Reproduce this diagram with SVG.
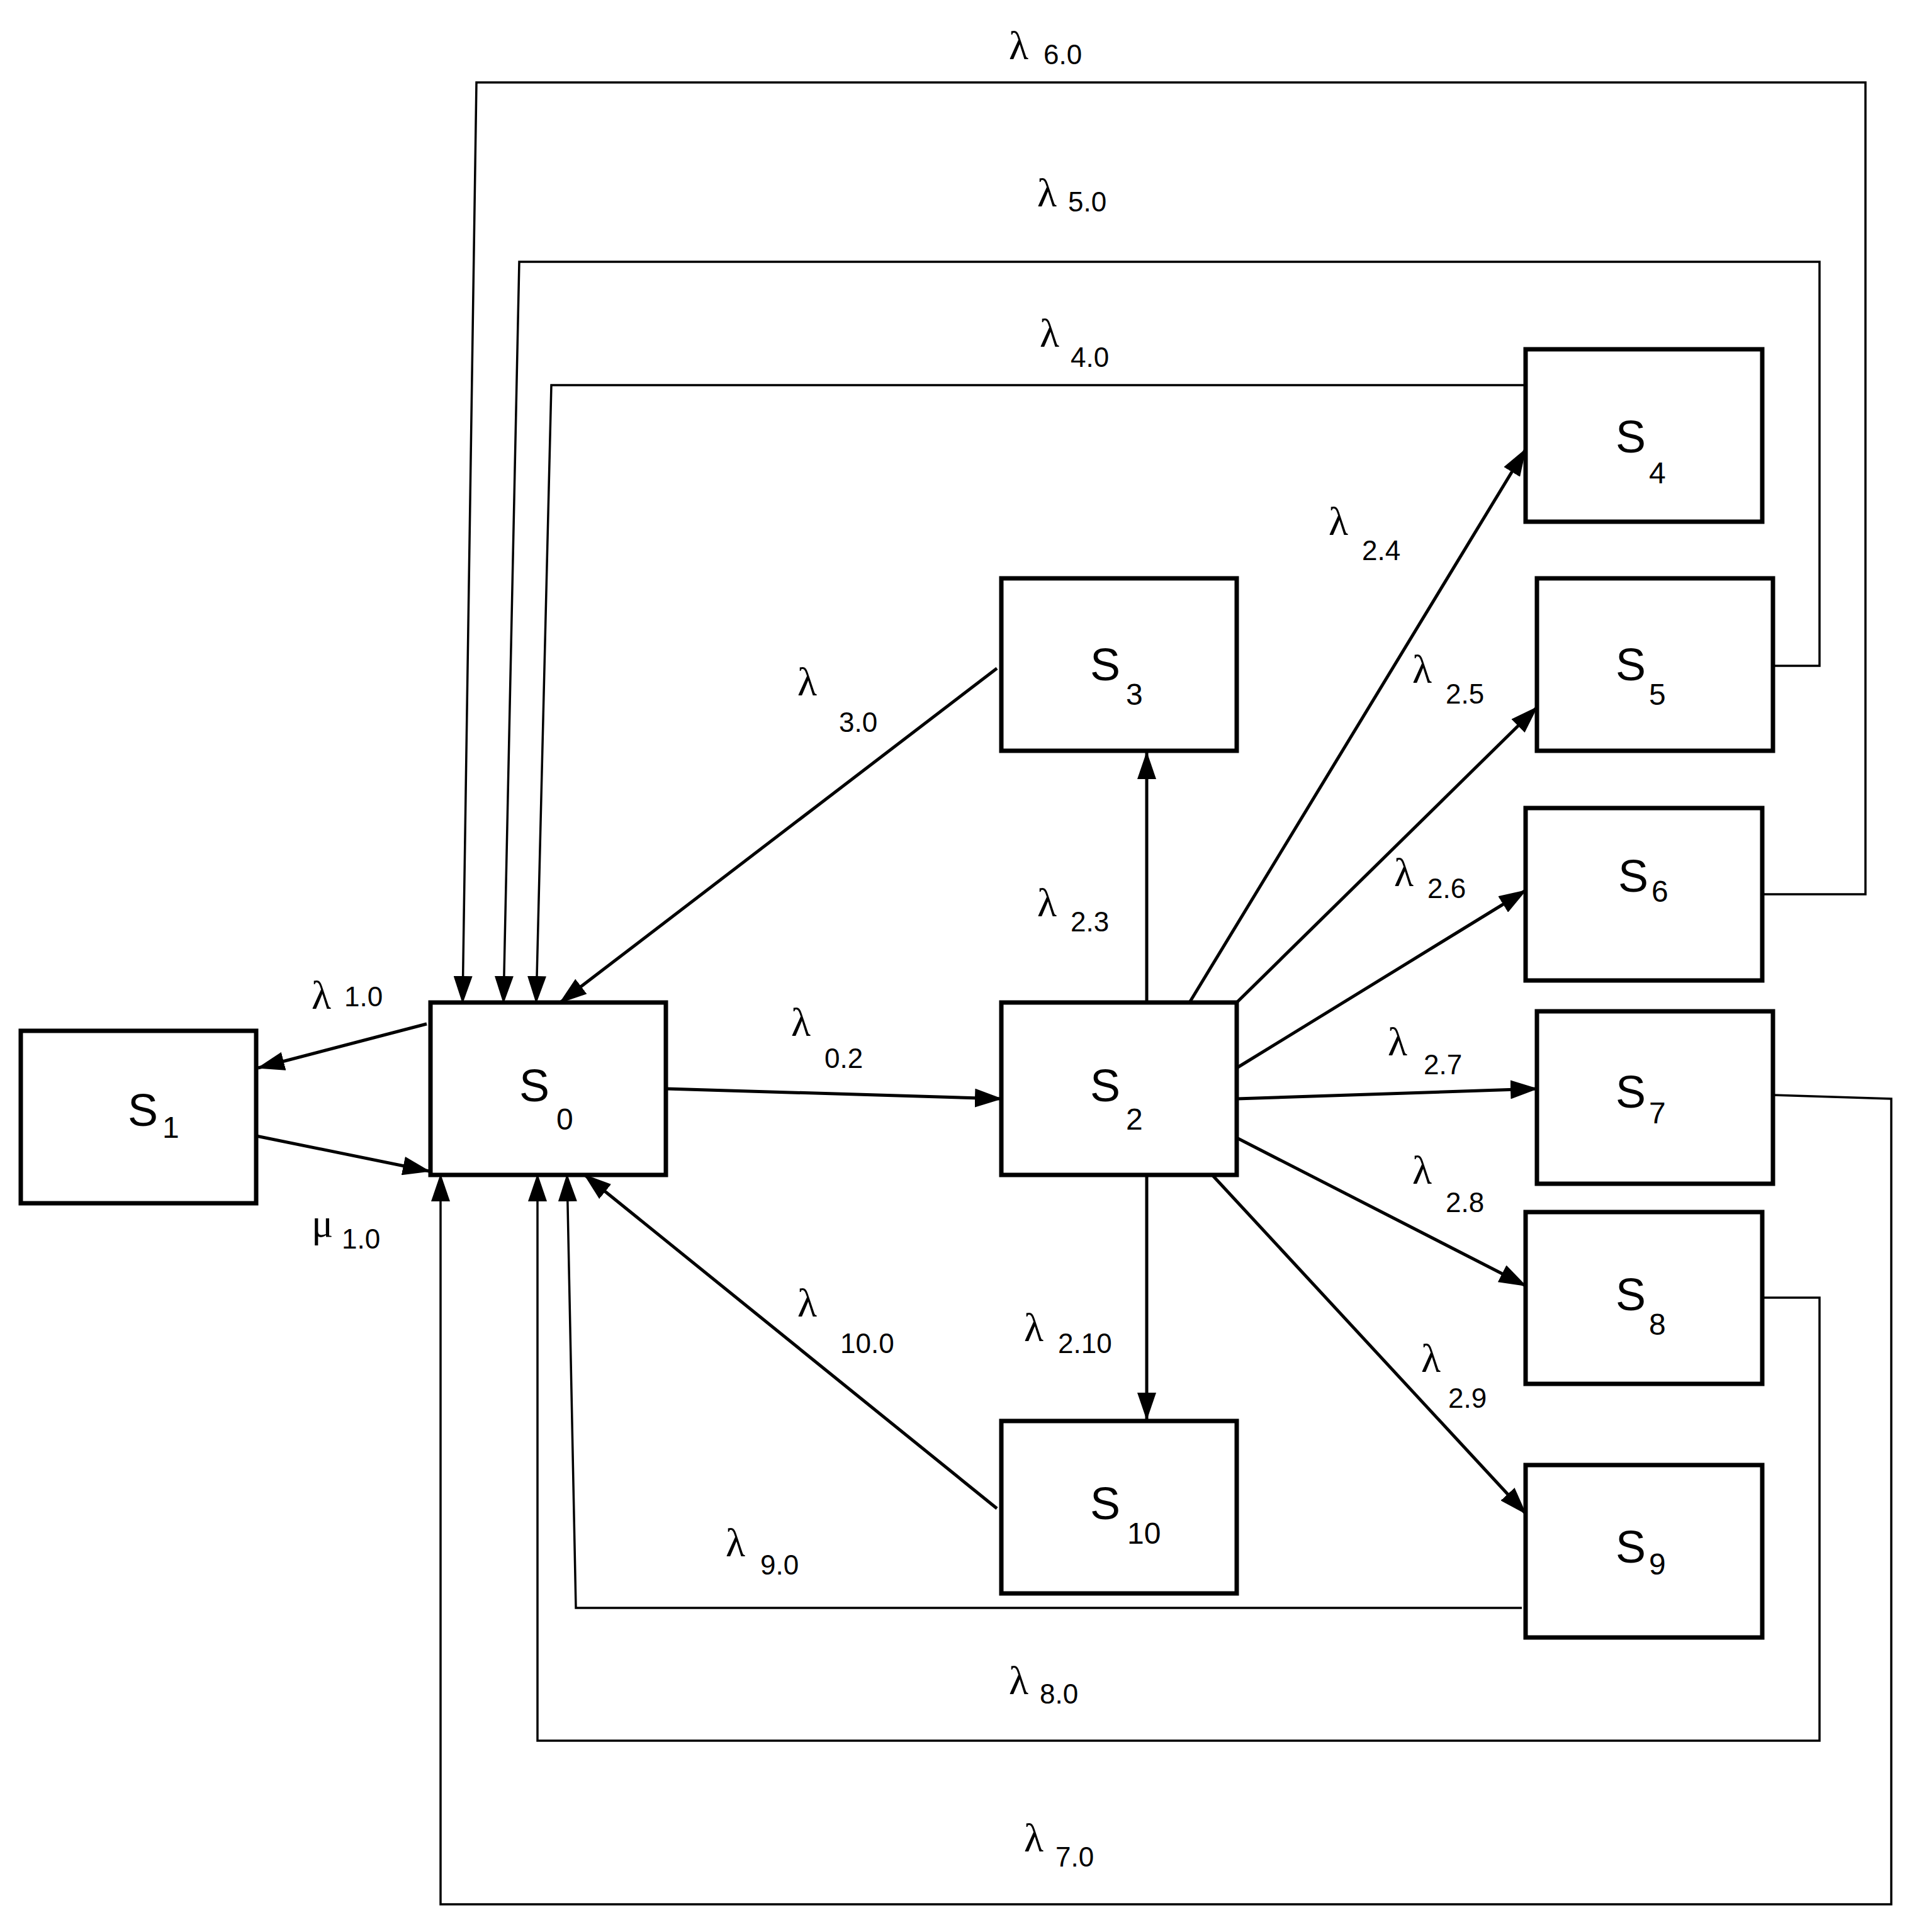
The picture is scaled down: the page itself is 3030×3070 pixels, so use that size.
<svg xmlns="http://www.w3.org/2000/svg" width="3030" height="3070" viewBox="0 0 3030 3070">
<style>
.box{fill:#fff;stroke:#000;stroke-width:7}
.c{fill:none;stroke:#000;stroke-width:5}
.w{fill:none;stroke:#000;stroke-width:3.5}
.s{font-family:"Liberation Sans","Open Sans",sans-serif;font-size:72px;fill:#000}
.ss{font-family:"Liberation Sans","Open Sans",sans-serif;font-size:48px;fill:#000}
.l{font-family:"Liberation Serif",serif;font-size:64px;fill:#000}
.ls{font-family:"Liberation Sans","Open Sans",sans-serif;font-size:44px;fill:#000}
</style>
<defs>
<marker id="a" markerUnits="userSpaceOnUse" markerWidth="44" markerHeight="30" refX="42" refY="15" orient="auto"><path d="M0,0 L44,15 L0,30 Z" fill="#000"/></marker>
</defs>
<rect width="3030" height="3070" fill="#fff"/>
<g id="connectors">
<line class="c" x1="678" y1="1627" x2="410" y2="1697" marker-end="url(#a)"/>
<line class="c" x1="407" y1="1805" x2="682" y2="1861" marker-end="url(#a)"/>
<line class="c" x1="1058" y1="1730" x2="1591" y2="1746" marker-end="url(#a)"/>
<line class="c" x1="1584" y1="1062" x2="890" y2="1593" marker-end="url(#a)"/>
<line class="c" x1="1584" y1="2397" x2="929" y2="1867" marker-end="url(#a)"/>
<line class="c" x1="1822" y1="1593" x2="1822" y2="1196" marker-end="url(#a)"/>
<line class="c" x1="1822" y1="1867" x2="1822" y2="2255" marker-end="url(#a)"/>
<line class="c" x1="1890" y1="1593" x2="2424" y2="714" marker-end="url(#a)"/>
<line class="c" x1="1965" y1="1593" x2="2442" y2="1124" marker-end="url(#a)"/>
<line class="c" x1="1965" y1="1697" x2="2424" y2="1415" marker-end="url(#a)"/>
<line class="c" x1="1965" y1="1746" x2="2442" y2="1730" marker-end="url(#a)"/>
<line class="c" x1="1965" y1="1808" x2="2424" y2="2043" marker-end="url(#a)"/>
<line class="c" x1="1926" y1="1867" x2="2424" y2="2405" marker-end="url(#a)"/>
<polyline class="w" points="2800,1421 2964,1421 2964,131 757,131 735,1593" marker-end="url(#a)"/>
<polyline class="w" points="2817,1058 2891,1058 2891,416 825,416 800,1593" marker-end="url(#a)"/>
<polyline class="w" points="2424,612 876,612 852,1593" marker-end="url(#a)"/>
<polyline class="w" points="2817,1740 3005,1746 3005,3026 700,3026 700,1867" marker-end="url(#a)"/>
<polyline class="w" points="2800,2062 2891,2062 2891,2766 854,2766 854,1867" marker-end="url(#a)"/>
<polyline class="w" points="2418,2555 915,2555 901,1867" marker-end="url(#a)"/>
</g>
<g id="labels">
<text class="l" x="1603" y="94">λ</text><text class="ls" x="1658" y="102">6.0</text>
<text class="l" x="1648" y="328">λ</text><text class="ls" x="1697" y="336">5.0</text>
<text class="l" x="1652" y="551">λ</text><text class="ls" x="1701" y="583">4.0</text>
<text class="l" x="495" y="1603">λ</text><text class="ls" x="547" y="1599">1.0</text>
<text class="l" x="495" y="1965">μ</text><text class="ls" x="543" y="1984">1.0</text>
<text class="l" x="1267" y="1105">λ</text><text class="ls" x="1333" y="1163">3.0</text>
<text class="l" x="1257" y="1646">λ</text><text class="ls" x="1310" y="1697">0.2</text>
<text class="l" x="1648" y="1456">λ</text><text class="ls" x="1701" y="1480">2.3</text>
<text class="l" x="1267" y="2092">λ</text><text class="ls" x="1335" y="2150">10.0</text>
<text class="l" x="1627" y="2131">λ</text><text class="ls" x="1681" y="2150">2.10</text>
<text class="l" x="1153" y="2473">λ</text><text class="ls" x="1208" y="2502">9.0</text>
<text class="l" x="1603" y="2692">λ</text><text class="ls" x="1652" y="2707">8.0</text>
<text class="l" x="1627" y="2942">λ</text><text class="ls" x="1677" y="2966">7.0</text>
<text class="l" x="2111" y="850">λ</text><text class="ls" x="2164" y="890">2.4</text>
<text class="l" x="2244" y="1085">λ</text><text class="ls" x="2297" y="1118">2.5</text>
<text class="l" x="2215" y="1408">λ</text><text class="ls" x="2268" y="1427">2.6</text>
<text class="l" x="2205" y="1677">λ</text><text class="ls" x="2262" y="1707">2.7</text>
<text class="l" x="2244" y="1881">λ</text><text class="ls" x="2297" y="1926">2.8</text>
<text class="l" x="2258" y="2180">λ</text><text class="ls" x="2301" y="2237">2.9</text>
</g>
<g id="S0"><rect class="box" x="684" y="1593" width="374" height="274"/><text class="s" x="825" y="1750">S</text><text class="ss" x="884" y="1795">0</text></g>
<g id="S1"><rect class="box" x="33" y="1638" width="374" height="274"/><text class="s" x="203" y="1789">S</text><text class="ss" x="258" y="1808">1</text></g>
<g id="S2"><rect class="box" x="1591" y="1593" width="374" height="274"/><text class="s" x="1732" y="1750">S</text><text class="ss" x="1789" y="1795">2</text></g>
<g id="S3"><rect class="box" x="1591" y="919" width="374" height="274"/><text class="s" x="1732" y="1081">S</text><text class="ss" x="1789" y="1120">3</text></g>
<g id="S4"><rect class="box" x="2424" y="555" width="376" height="274"/><text class="s" x="2567" y="719">S</text><text class="ss" x="2620" y="768">4</text></g>
<g id="S5"><rect class="box" x="2442" y="919" width="375" height="274"/><text class="s" x="2567" y="1081">S</text><text class="ss" x="2620" y="1120">5</text></g>
<g id="S6"><rect class="box" x="2424" y="1284" width="376" height="274"/><text class="s" x="2571" y="1417">S</text><text class="ss" x="2624" y="1433">6</text></g>
<g id="S7"><rect class="box" x="2442" y="1607" width="375" height="274"/><text class="s" x="2567" y="1760">S</text><text class="ss" x="2620" y="1785">7</text></g>
<g id="S8"><rect class="box" x="2424" y="1926" width="376" height="273"/><text class="s" x="2567" y="2082">S</text><text class="ss" x="2620" y="2121">8</text></g>
<g id="S9"><rect class="box" x="2424" y="2328" width="376" height="274"/><text class="s" x="2567" y="2483">S</text><text class="ss" x="2620" y="2502">9</text></g>
<g id="S10"><rect class="box" x="1591" y="2258" width="374" height="274"/><text class="s" x="1732" y="2414">S</text><text class="ss" x="1791" y="2453">10</text></g>
</svg>
